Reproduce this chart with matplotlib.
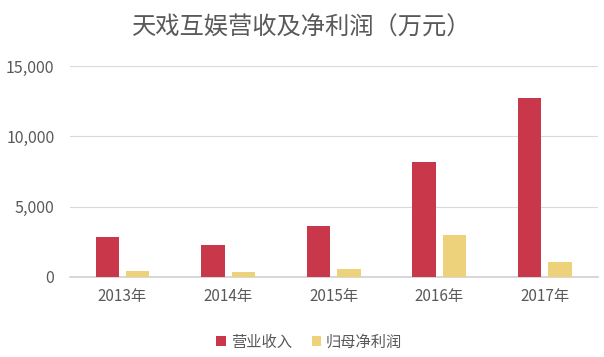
import matplotlib
matplotlib.use('Agg')
import numpy as np
from matplotlib import pyplot as plt
from matplotlib.ticker import FuncFormatter

plt.rcParams['font.family'] = ['Noto Sans CJK SC', 'DejaVu Sans']

years = ['2013年', '2014年', '2015年', '2016年', '2017年']
revenue = [2830, 2265, 3610, 8210, 12740]
net_profit = [425, 355, 587, 2972, 1062]

red = '#C9374A'
yellow = '#EDD17B'
gray = '#595959'

fig = plt.figure(figsize=(6.04, 3.57), dpi=100)
ax = fig.add_axes([0.1154, 0.2241, 0.874, 0.591])

x = np.arange(len(years))
w = 0.2225
gap = 0.066
ax.bar(x - (w + gap) / 2, revenue, w, color=red, label='营业收入', zorder=3)
ax.bar(x + (w + gap) / 2, net_profit, w, color=yellow, label='归母净利润', zorder=3)

ax.set_xlim(-0.5, len(years) - 0.5)
ax.set_ylim(0, 15000)
ax.set_yticks([0, 5000, 10000, 15000])
ax.yaxis.set_major_formatter(FuncFormatter(lambda v, p: '{:,.0f}'.format(v)))
ax.set_xticks(x)
ax.set_xticklabels(years)
ax.grid(axis='y', color='#D9D9D9', linewidth=0.8, zorder=0)
for s in ['top', 'right', 'left']:
    ax.spines[s].set_visible(False)
ax.spines['bottom'].set_color('#D0D0D0')
ax.spines['bottom'].set_linewidth(1.2)
ax.tick_params(axis='both', length=0, colors=gray, labelsize=11)
ax.tick_params(axis='y', labelsize=11.5, pad=11)
ax.tick_params(axis='x', pad=8)

fig.text(0.5, 0.922, '天戏互娱营收及净利润（万元）', ha='center', va='center',
         fontsize=17.5, color=gray)

fig.legend(loc='center', bbox_to_anchor=(0.512, 0.042), ncol=2, frameon=False,
           fontsize=11, labelcolor=gray, handlelength=0.65, handleheight=0.65,
           handletextpad=0.3, columnspacing=1.3)

fig.savefig('out.png', dpi=100)
